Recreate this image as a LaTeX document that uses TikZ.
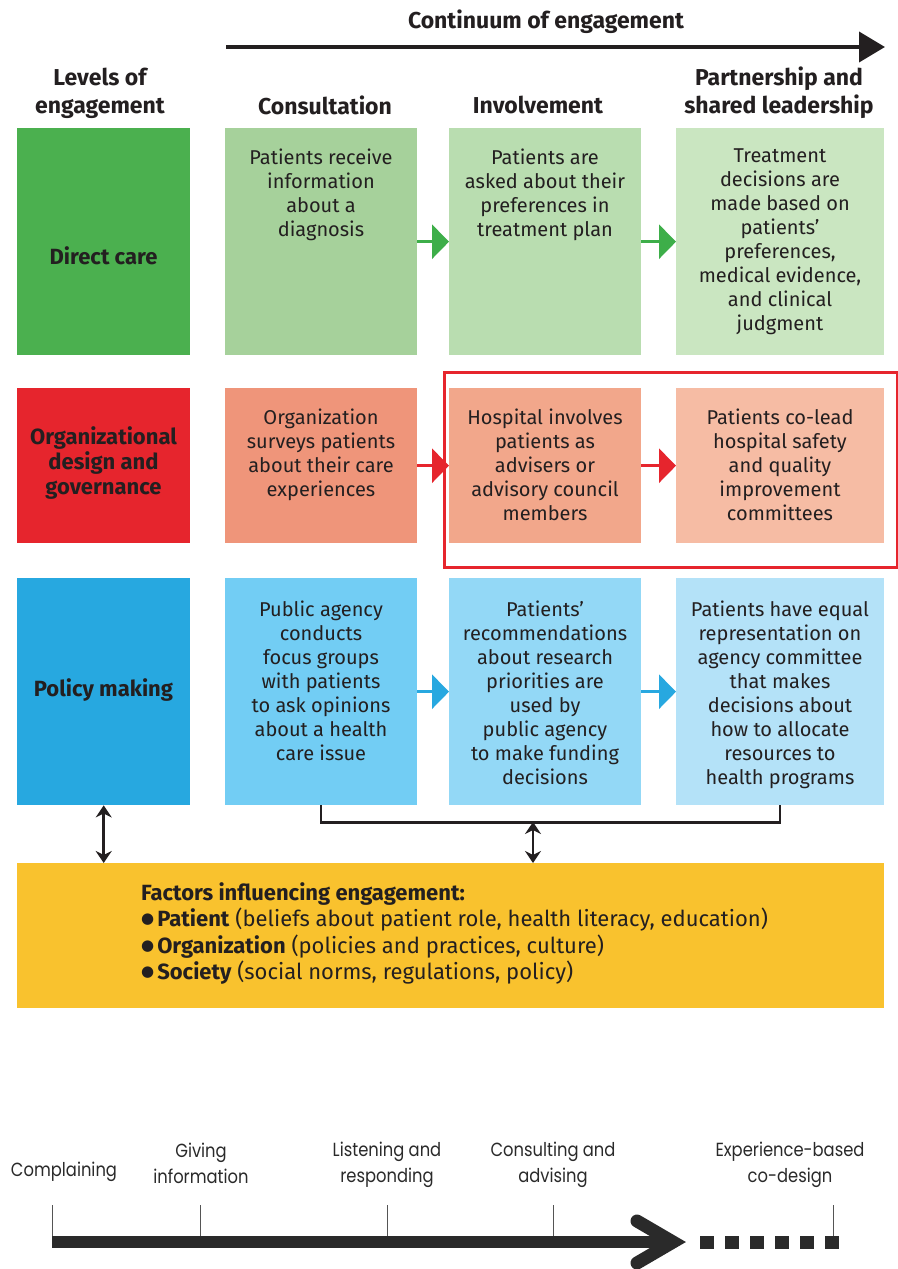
\documentclass[tikz,border=0pt]{standalone}
\usepackage{fontspec}
\setmainfont{Fira Sans}
\newfontfamily\futura{Poppins}[FakeStretch=0.86]
\newfontfamily\dejavu{DejaVu Sans}
\usetikzlibrary{arrows.meta}
\definecolor{txt}{HTML}{231F20}
\definecolor{gA}{HTML}{4BB04F}
\definecolor{gB}{HTML}{A6D19B}
\definecolor{gC}{HTML}{B9DDB0}
\definecolor{gD}{HTML}{CAE6C1}
\definecolor{gArr}{HTML}{3DAE49}
\definecolor{rA}{HTML}{E6252D}
\definecolor{rB}{HTML}{EF957A}
\definecolor{rC}{HTML}{F2A78B}
\definecolor{rD}{HTML}{F6BCA4}
\definecolor{bA}{HTML}{27A8E0}
\definecolor{bB}{HTML}{72CDF4}
\definecolor{bC}{HTML}{93D8F6}
\definecolor{bD}{HTML}{B4E2F8}
\definecolor{yel}{HTML}{F9C22E}
\definecolor{tl}{HTML}{2A2A2A}
\newcommand{\bul}{\raisebox{3pt}{\dejavu\fontsize{15}{15}\selectfont ●}\hspace{3pt}}
\begin{document}
\begin{tikzpicture}[x=1pt,y=-1pt,
  cell/.style={draw=none, inner sep=0pt, anchor=north west},
  ctext/.style={inner sep=0pt, anchor=north, align=center, text=txt, font=\fontsize{20}{24}\selectfont},
  head/.style={inner sep=0pt, align=center, text=txt, font=\fontsize{23}{28}\selectfont\bfseries},
  rowlab/.style={inner sep=0pt, align=center, text=txt, font=\fontsize{22}{25}\selectfont\bfseries},
  flow/.style={line width=3pt, -{Triangle[length=17pt,width=34pt]}},
  link/.style={line width=2.5pt, draw=txt, {Stealth[length=12pt,width=16pt]}-{Stealth[length=12pt,width=16pt]}},
  tickline/.style={line width=1pt, draw=tl!80},
  tlab/.style={inner sep=0pt, align=center, text=tl, font=\futura\fontsize{19}{26}\selectfont}]
\useasboundingbox (0,0) rectangle (897,1269);
\fill[white] (0,0) rectangle (897,1269);

% top continuum arrow
\coordinate (cs) at (226,47);
\coordinate (ce) at (885,47);
\draw[line width=4pt, draw=txt, -{Triangle[length=26pt,width=30pt]}] (cs) -- (ce);
\node[head] (cont) at (546,22) {Continuum of engagement};

% headers
\node[head] (hlev) at (100,93) {Levels of\\engagement};
\node[head] (hcon) at (325,105) {Consultation};
\node[head] (hinv) at (538,105) {Involvement};
\node[head] (hpar) at (779,93) {Partnership and\\shared leadership};

% highlight outline
\node[draw=rA, line width=2.5pt, inner sep=0pt, anchor=north west, minimum width=453, minimum height=195] (hl) at (443,371) {};

% row 1: direct care
\node[cell, fill=gA, minimum width=173, minimum height=227] (dc) at (17,128) {};
\node[cell, fill=gB, minimum width=192, minimum height=227] (c11) at (225,128) {};
\node[cell, fill=gC, minimum width=192, minimum height=227] (c12) at (449,128) {};
\node[cell, fill=gD, minimum width=208, minimum height=227] (c13) at (676,128) {};
\node[rowlab] (dcl) at (103.5,256) {Direct care};
\node[ctext] (t11) at (321,149) {Patients receive\\information\\about a\\diagnosis};
\node[ctext] (t12) at (545,149) {Patients are\\asked about their\\preferences in\\treatment plan};
\node[ctext] (t13) at (780,149) {Treatment\\decisions are\\made based on\\patients'\\preferences,\\medical evidence,\\and clinical\\judgment};
\draw[flow, draw=gArr, fill=gArr] (c11.east) -- (c12.west);
\draw[flow, draw=gArr, fill=gArr] (c12.east) -- (c13.west);

% row 2: organizational design
\node[cell, fill=rA, minimum width=173, minimum height=155] (og) at (17,388) {};
\node[cell, fill=rB, minimum width=192, minimum height=155] (c21) at (225,388) {};
\node[cell, fill=rC, minimum width=192, minimum height=155] (c22) at (449,388) {};
\node[cell, fill=rD, minimum width=208, minimum height=155] (c23) at (676,388) {};
\node[rowlab] (ogl) at (103.5,463) {Organizational\\design and\\governance};
\node[ctext] (t21) at (321,409) {Organization\\surveys patients\\about their care\\experiences};
\node[ctext] (t22) at (545,409) {Hospital involves\\patients as\\advisers or\\advisory council\\members};
\node[ctext] (t23) at (780,409) {Patients co-lead\\hospital safety\\and quality\\improvement\\committees};
\draw[flow, draw=rA, fill=rA] (c21.east) -- (c22.west);
\draw[flow, draw=rA, fill=rA] (c22.east) -- (c23.west);

% row 3: policy making
\node[cell, fill=bA, minimum width=173, minimum height=227] (pm) at (17,578) {};
\node[cell, fill=bB, minimum width=192, minimum height=227] (c31) at (225,578) {};
\node[cell, fill=bC, minimum width=192, minimum height=227] (c32) at (449,578) {};
\node[cell, fill=bD, minimum width=208, minimum height=227] (c33) at (676,578) {};
\node[rowlab] (pml) at (103.5,690) {Policy making};
\node[ctext] (t31) at (321,601) {Public agency\\conducts\\focus groups\\with patients\\to ask opinions\\about a health\\care issue};
\node[ctext] (t32) at (545,601) {Patients'\\recommendations\\about research\\priorities are\\used by\\public agency\\to make funding\\decisions};
\node[ctext] (t33) at (780,601) {Patients have equal\\representation on\\agency committee\\that makes\\decisions about\\how to allocate\\resources to\\health programs};
\draw[flow, draw=bA, fill=bA] (c31.east) -- (c32.west);
\draw[flow, draw=bA, fill=bA] (c32.east) -- (c33.west);

% factors box
\node[cell, fill=yel, minimum width=867, minimum height=145] (fac) at (17,863) {};
\node[inner sep=0pt, anchor=north west, align=left, text=txt, font=\fontsize{22}{26.5}\selectfont] (factxt) at (141,882)
 {\textbf{Factors influencing engagement:}\\
  \bul\textbf{Patient} (beliefs about patient role, health literacy, education)\\
  \bul\textbf{Organization} (policies and practices, culture)\\
  \bul\textbf{Society} (social norms, regulations, policy)};

% connectors to factors
\draw[line width=2.5pt, draw=txt] (c31.south) -- ++(0,17) -| (c33.south);
\coordinate (bm) at (533,822);
\draw[link] (bm) -- (bm |- fac.north);
\draw[link] (pm.south) -- (pm.south |- fac.north);

% bottom timeline
\node[tlab] (l1) at (64,1172) {Complaining};
\node[tlab] (l2) at (201,1163) {Giving\\information};
\node[tlab] (l3) at (387,1165) {Listening and\\responding};
\node[tlab] (l4) at (553,1165) {Consulting and\\advising};
\node[tlab] (l5) at (790,1165) {Experience-based\\co-design};
\draw[tickline] (52,1205) -- (52,1242);
\draw[tickline] (200,1205) -- (200,1242);
\draw[tickline] (387,1205) -- (387,1242);
\draw[tickline] (553,1205) -- (553,1242);
\draw[tickline] (833,1205) -- (833,1242);
\draw[line width=12pt, draw=tl] (52,1242) -- (668,1242);
\draw[line width=13pt, draw=tl, line cap=round, line join=miter] (637,1221) -- (673,1242) -- (637,1263);
\draw[line width=13pt, draw=tl, dash pattern=on 14pt off 11pt] (700,1242.5) -- (839,1242.5);
\end{tikzpicture}
\end{document}
